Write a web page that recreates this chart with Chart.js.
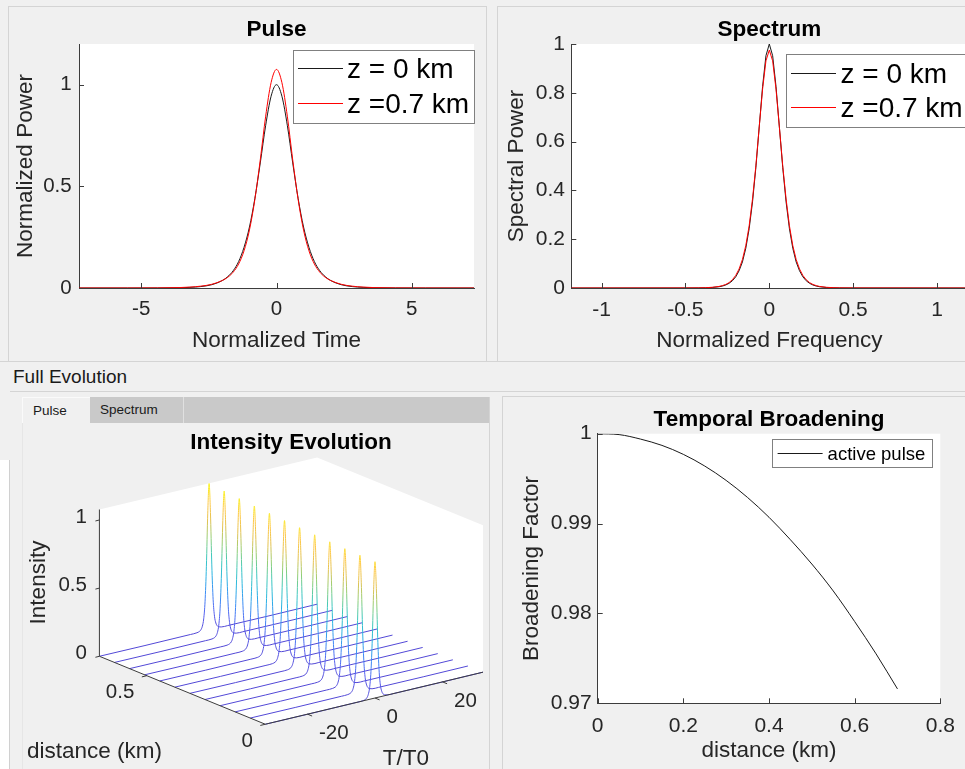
<!DOCTYPE html>
<html>
<head>
<meta charset="utf-8">
<title>Pulse propagation</title>
<script src="https://cdn.jsdelivr.net/npm/chart.js@4.4.1/dist/chart.umd.min.js"></script>
<style>
  html, body { margin: 0; padding: 0; background: #f0f0f0; overflow: hidden; }
  #fig { position: relative; width: 965px; height: 769px; overflow: hidden;
         font-family: "Liberation Sans", Arial, Helvetica, sans-serif; color: #000; }
  .ln { position: absolute; background: #d4d4d4; }
  canvas { position: absolute; }
  .tab { position: absolute; top: 397px; height: 26px; line-height: 26px; font-size: 13.5px; color: #1a1a1a; box-sizing: border-box; }
</style>
</head>
<body>
<div id="fig">
  <!-- panel frames -->
  <div class="ln" style="left:8px;top:6px;width:1px;height:355px"></div>
  <div class="ln" style="left:8px;top:6px;width:478px;height:1px"></div>
  <div class="ln" style="left:486px;top:6px;width:1px;height:355px"></div>
  <div class="ln" style="left:497px;top:6px;width:1px;height:355px"></div>
  <div class="ln" style="left:497px;top:6px;width:468px;height:1px"></div>
  <div class="ln" style="left:0;top:361px;width:965px;height:1px"></div>
  <div style="position:absolute;left:13px;top:365px;font-size:19px;line-height:23px;color:#1a1a1a">Full Evolution</div>
  <div class="ln" style="left:10px;top:391px;width:955px;height:1px"></div>
  <div style="position:absolute;left:0;top:460px;width:9px;height:309px;background:#fff;border-right:1px solid #d0d0d0"></div>

  <!-- tab group -->
  <div style="position:absolute;left:22px;top:397px;width:467px;height:26px;background:#c9c9c9"></div>
  <div class="tab" style="left:22px;width:68px;background:#f0f0f0;border-left:1px solid #fafafa;border-top:1px solid #fafafa;padding-left:10px">Pulse</div>
  <div class="tab" style="left:90px;width:94px;background:#c9c9c9;border-right:1px solid #e0e0e0;padding-left:10px">Spectrum</div>
  <div class="ln" style="left:22px;top:423px;width:1px;height:346px;background:#e6e6e6"></div>
  <div class="ln" style="left:489px;top:397px;width:1px;height:372px"></div>

  <div class="ln" style="left:502px;top:396px;width:1px;height:373px"></div>
  <div class="ln" style="left:502px;top:396px;width:463px;height:1px"></div>

  <canvas id="pulse" width="478" height="355" style="left:8px;top:6px"></canvas>
  <canvas id="spectrum" width="490" height="355" style="left:497px;top:6px"></canvas>
  <canvas id="evolution" width="467" height="346" style="left:22px;top:423px"></canvas>
  <canvas id="broadening" width="463" height="372" style="left:502px;top:397px"></canvas>
</div>

<script>
// ---- pulse in time (normalized time, normalized power)
const pulseTime = [-7.3, -5.5, -4.4, -3.6, -3.2, -2.8, -2.4, -2.0, -1.8, -1.6, -1.4, -1.2, -1.0, -0.8, -0.6, -0.4, -0.2, 0,
                   0.2, 0.4, 0.6, 0.8, 1.0, 1.2, 1.4, 1.6, 1.8, 2.0, 2.4, 2.8, 3.2, 3.6, 4.4, 5.5, 7.3];
const pulseStart = [0, 0, 0.0002, 0.0012, 0.003, 0.007, 0.016, 0.037, 0.056, 0.085, 0.130, 0.200, 0.300, 0.440, 0.615, 0.800, 0.943, 1.000,
                    0.943, 0.800, 0.615, 0.440, 0.300, 0.200, 0.130, 0.085, 0.056, 0.037, 0.016, 0.007, 0.003, 0.0012, 0.0002, 0, 0];
const pulseEnd = [0, 0.0001, 0.0005, 0.002, 0.0045, 0.009, 0.018, 0.037, 0.053, 0.078, 0.118, 0.183, 0.285, 0.435, 0.630, 0.845, 1.010, 1.075,
                  1.010, 0.845, 0.630, 0.435, 0.285, 0.183, 0.118, 0.078, 0.053, 0.037, 0.018, 0.009, 0.0045, 0.002, 0.0005, 0.0001, 0];
const pulseTicksX = [-5, 0, 5];
const pulseTicksY = [0, 0.5, 1];

// ---- spectrum (normalized frequency, spectral power)
const specFreq = [-1.18, -0.5, -0.42, -0.38, -0.34, -0.30, -0.28, -0.26, -0.24, -0.22, -0.20, -0.18, -0.16, -0.14, -0.12, -0.10,
                  -0.08, -0.06, -0.04, -0.02, 0, 0.02, 0.04, 0.06, 0.08, 0.10, 0.12, 0.14, 0.16, 0.18, 0.20, 0.22, 0.24,
                  0.26, 0.28, 0.30, 0.34, 0.38, 0.42, 0.5, 1.18];
const specStart = [0, 0.0001, 0.0004, 0.0009, 0.0021, 0.0051, 0.0079, 0.0123, 0.0191, 0.0297, 0.0459, 0.0707, 0.107, 0.163, 0.243, 0.353,
                   0.494, 0.660, 0.826, 0.952, 1.000, 0.952, 0.826, 0.660, 0.494, 0.353, 0.243, 0.163, 0.107, 0.0707, 0.0459, 0.0297, 0.0191,
                   0.0123, 0.0079, 0.0051, 0.0021, 0.0009, 0.0004, 0.0001, 0];
const specEnd = [0, 0.0002, 0.0006, 0.0013, 0.0029, 0.0064, 0.0097, 0.0145, 0.022, 0.034, 0.0515, 0.078, 0.117, 0.174, 0.255, 0.365,
                 0.501, 0.660, 0.815, 0.931, 0.975, 0.931, 0.815, 0.660, 0.501, 0.365, 0.255, 0.174, 0.117, 0.078, 0.0515, 0.034, 0.022,
                 0.0145, 0.0097, 0.0064, 0.0029, 0.0013, 0.0006, 0.0002, 0];
const specTicksX = [-1, -0.5, 0, 0.5, 1];
const specTicksY = [0, 0.2, 0.4, 0.6, 0.8, 1];

// ---- broadening factor along the fibre
const broadDistance = [0, 0.05, 0.10, 0.15, 0.20, 0.25, 0.30, 0.35, 0.40, 0.45, 0.50, 0.55, 0.60, 0.65, 0.70];
const broadFactor = [1.0000, 0.9999, 0.9994, 0.9987, 0.9977, 0.9964, 0.9948, 0.9929, 0.9907, 0.9882, 0.9855, 0.9825, 0.9791, 0.9755, 0.9716];
const broadTicksX = [0, 0.2, 0.4, 0.6, 0.8];
const broadTicksY = [0.97, 0.98, 0.99, 1];

// ---- waterfall of the pulse along distance
const evoDistance = [0, 0.0636, 0.1273, 0.1909, 0.2545, 0.3182, 0.3818, 0.4455, 0.5091, 0.5727, 0.6364, 0.7];
const evoPeak = [1.000, 1.002, 1.005, 1.010, 1.016, 1.023, 1.030, 1.038, 1.046, 1.055, 1.065, 1.075];
const evoTime = [-32.5, -5.5, -3.6, -2.8, -2.4, -2.0, -1.6, -1.2, -0.8, -0.4, 0, 0.4, 0.8, 1.2, 1.6, 2.0, 2.4, 2.8, 3.6, 5.5, 32];
const evoShape = [0, 0, 0.0012, 0.007, 0.016, 0.037, 0.085, 0.200, 0.440, 0.800, 1, 0.800, 0.440, 0.200, 0.085, 0.037, 0.016, 0.007, 0.0012, 0, 0];
const evoTicksT = [-20, 0, 20];
const evoTicksZ = [0, 0.5];
const evoTicksI = [0, 0.5, 1];
const evoLimT = [-32.5, 32];
const evoLimZ = [0, 0.7];
const evoLimI = [0, 1.077];

const family = '"Liberation Sans", Arial, Helvetica, sans-serif';
Chart.defaults.font.family = family;
Chart.defaults.color = '#262626';
Chart.defaults.animation = false;
Chart.defaults.events = [];
Chart.defaults.plugins.legend.display = false;
Chart.defaults.plugins.tooltip.enabled = false;

const AXIS = '#3c3c3c';
const BLACK_LINE = '#1a1a1a';
const RED_LINE = '#ff0000';

// white plot box behind the data
const plotBg = {
  id: 'plotBg',
  beforeDraw(chart) {
    const { ctx, chartArea: a } = chart;
    ctx.save();
    ctx.fillStyle = '#ffffff';
    ctx.fillRect(a.left, a.top, a.right - a.left, a.bottom - a.top);
    ctx.restore();
  }
};

// short tick marks pointing into the plot
const inwardTicks = {
  id: 'inwardTicks',
  afterDatasetsDraw(chart, args, opts) {
    const { ctx, chartArea: a, scales } = chart;
    const len = opts.length || 5;
    ctx.save();
    ctx.strokeStyle = AXIS;
    ctx.lineWidth = 1;
    ctx.beginPath();
    scales.x.ticks.forEach((t) => {
      const p = Math.round(scales.x.getPixelForValue(t.value)) + 0.5;
      ctx.moveTo(p, a.bottom);
      ctx.lineTo(p, a.bottom - len);
    });
    scales.y.ticks.forEach((t) => {
      const p = Math.round(scales.y.getPixelForValue(t.value)) + 0.5;
      ctx.moveTo(a.left, p);
      ctx.lineTo(a.left + len, p);
    });
    ctx.stroke();
    ctx.restore();
  }
};

// boxed legend in the top right corner of the plot, sample colour taken from each line
const boxLegend = {
  id: 'boxLegend',
  afterDraw(chart, args, o) {
    const { ctx, chartArea: a } = chart;
    const left = Math.round(a.right - o.right - o.width);
    const top = Math.round(a.top + o.top);
    ctx.save();
    ctx.fillStyle = '#ffffff';
    ctx.fillRect(left, top, o.width, o.height);
    ctx.strokeStyle = '#808080';
    ctx.lineWidth = 1;
    ctx.strokeRect(left + 0.5, top + 0.5, Math.round(o.width), Math.round(o.height));
    ctx.font = o.size + 'px ' + family;
    ctx.textBaseline = 'middle';
    chart.data.datasets.forEach((ds, i) => {
      const y = Math.round(top + o.first + i * o.row);
      const line = chart.getDatasetMeta(i).dataset;
      ctx.fillStyle = line && line.options ? line.options.borderColor : ds.borderColor;
      ctx.fillRect(left + o.sample, y, 45, 1);
      ctx.fillStyle = '#000';
      ctx.fillText(ds.label, left + o.text, y + 2);
    });
    ctx.restore();
  }
};

function axis(min, max, ticks, title, o) {
  return {
    type: 'linear',
    min: min,
    max: max,
    grid: { display: false, drawTicks: false },
    border: { display: true, color: AXIS, width: 1 },
    afterBuildTicks: (s) => { s.ticks = ticks.map((v) => ({ value: v })); },
    afterFit: (s) => { if (s.isHorizontal()) s.height = o.size; else s.width = o.size; },
    ticks: { padding: o.tickPad, font: { size: o.tickFont }, color: '#262626', callback: (v) => String(v) },
    title: { display: true, text: title, font: { size: 22.5 }, color: '#262626', padding: o.titlePad }
  };
}

function series(xs, ys) {
  return xs.map((x, i) => ({ x: x, y: ys[i] }));
}

function lineSet(label, xs, ys, color, order, smooth) {
  return {
    label: label,
    data: series(xs, ys),
    showLine: true,
    borderColor: color,
    borderWidth: 1,
    pointRadius: 0,
    order: order,
    tension: 0,
    cubicInterpolationMode: smooth ? 'monotone' : 'default'
  };
}

function titleOpts(text, top, bottom) {
  return {
    display: true, text: text, fullSize: false, color: '#000',
    font: { size: 22.5, weight: 'bold' }, padding: { top: top, bottom: bottom }
  };
}

// ---- Pulse
new Chart(document.getElementById('pulse'), {
  type: 'scatter',
  data: {
    datasets: [
      lineSet('z = 0 km', pulseTime, pulseStart, BLACK_LINE, 1, true),
      lineSet('z =0.7 km', pulseTime, pulseEnd, RED_LINE, 0, true)
    ]
  },
  options: {
    responsive: false,
    layout: { padding: { left: 0, right: 12, top: 0, bottom: 0 } },
    scales: {
      x: axis(-7.3, 7.3, pulseTicksX, 'Normalized Time', { size: 73, tickPad: 9, tickFont: 20.5, titlePad: { top: 0, bottom: 7.2 } }),
      y: axis(0, 1.2, pulseTicksY, 'Normalized Power', { size: 71, tickPad: 7.3, tickFont: 20.5, titlePad: { top: 4.6, bottom: 0 } })
    },
    plugins: {
      title: titleOpts('Pulse', 10.2, 0.8),
      inwardTicks: { length: 5 },
      boxLegend: { right: 0.3, top: 6, width: 181, height: 72.7, first: 18.3, row: 35, size: 28, sample: 5, text: 54 }
    }
  },
  plugins: [plotBg, inwardTicks, boxLegend]
});

// ---- Spectrum
new Chart(document.getElementById('spectrum'), {
  type: 'scatter',
  data: {
    datasets: [
      lineSet('z = 0 km', specFreq, specStart, BLACK_LINE, 1, false),
      lineSet('z =0.7 km', specFreq, specEnd, RED_LINE, 0, false)
    ]
  },
  options: {
    responsive: false,
    layout: { padding: { left: 0, right: 19.7, top: 0, bottom: 0 } },
    scales: {
      x: axis(-1.18, 1.18, specTicksX, 'Normalized Frequency', { size: 73, tickPad: 9.4, tickFont: 21, titlePad: { top: 0, bottom: 7.2 } }),
      y: axis(0, 1, specTicksY, 'Spectral Power', { size: 74.3, tickPad: 6.3, tickFont: 21, titlePad: { top: 6.4, bottom: 0 } })
    },
    plugins: {
      title: titleOpts('Spectrum', 10.2, 0.8),
      inwardTicks: { length: 5 },
      boxLegend: { right: 0, top: 10, width: 181, height: 72.7, first: 18.7, row: 34.6, size: 28, sample: 5, text: 54.5 }
    }
  },
  plugins: [plotBg, inwardTicks, boxLegend]
});

// ---- Temporal broadening
new Chart(document.getElementById('broadening'), {
  type: 'scatter',
  data: {
    datasets: [lineSet('active pulse', broadDistance, broadFactor, BLACK_LINE, 0, true)]
  },
  options: {
    responsive: false,
    layout: { padding: { left: 0, right: 14, top: 0, bottom: 0 } },
    scales: {
      x: axis(0, 0.8, broadTicksX, 'distance (km)', { size: 65.7, tickPad: 10.1, tickFont: 21, titlePad: { top: 0, bottom: 4.5 } }),
      y: axis(0.97, 1, broadTicksY, 'Broadening Factor', { size: 95.7, tickPad: 6, tickFont: 21, titlePad: { top: 16.4, bottom: 0 } })
    },
    plugins: {
      title: titleOpts('Temporal Broadening', 9, 0.7),
      inwardTicks: { length: 5 },
      boxLegend: { right: 8.7, top: 5.3, width: 159.6, height: 27.7, first: 13.7, row: 0, size: 18.5, sample: 5.6, text: 55.6 }
    }
  },
  plugins: [plotBg, inwardTicks, boxLegend]
});

// ---- 3D waterfall: orthographic view of (T/T0, distance, intensity) onto the panel
const view = { x0: 375, y0: 698, tx: 3.375, ty: -0.8075, zx: -237, zy: -97.1, iy: -136.3 };
function project(t, z, i) {
  return { x: view.x0 + view.tx * t + view.zx * z, y: view.y0 + view.ty * t + view.zy * z + view.iy * i };
}

// parula-like colour map, coloured by intensity
const colorTop = 1.075;
const cmap = [
  [0.00, 'rgb(82,72,214)'], [0.12, 'rgb(84,96,240)'], [0.25, 'rgb(60,138,245)'],
  [0.38, 'rgb(40,180,226)'], [0.50, 'rgb(60,200,190)'], [0.62, 'rgb(140,206,120)'],
  [0.75, 'rgb(228,194,80)'], [0.87, 'rgb(254,200,70)'], [1.00, 'rgb(249,246,24)']
];

function traceGradient(chart, z) {
  const sx = chart.scales.x, sy = chart.scales.y;
  if (!chart.chartArea || !sx || !sy) return cmap[0][1];
  const px = (p) => ({ x: sx.getPixelForValue(p.x), y: sy.getPixelForValue(p.y) });
  const a = px(project(0, z, 0));
  const b = px(project(0, z, colorTop));
  const c = px(project(1, z, 0));
  if (![a.x, a.y, b.x, b.y, c.x, c.y].every(Number.isFinite)) return cmap[0][1];
  // colour bands run parallel to the time axis
  let nx = -(c.y - a.y), ny = c.x - a.x;
  const n = Math.hypot(nx, ny);
  nx /= n; ny /= n;
  let len = nx * (b.x - a.x) + ny * (b.y - a.y);
  if (len < 0) { nx = -nx; ny = -ny; len = -len; }
  const g = chart.ctx.createLinearGradient(a.x, a.y, a.x + nx * len, a.y + ny * len);
  cmap.forEach(([s, col]) => g.addColorStop(s, col));
  return g;
}

const evoSets = evoDistance.map((z, k) => ({
  label: 'z ' + z,
  data: evoTime.map((t, j) => project(t, z, evoPeak[k] * evoShape[j])),
  showLine: true,
  pointRadius: 0,
  borderWidth: 1,
  cubicInterpolationMode: 'monotone',
  borderColor: (ctx) => traceGradient(ctx.chart, z)
}));

const evoFrame = {
  id: 'evoFrame',
  beforeDatasetsDraw(chart) {
    const { ctx } = chart;
    const sx = chart.scales.x, sy = chart.scales.y;
    const px = (p) => [sx.getPixelForValue(p.x), sy.getPixelForValue(p.y)];
    const [t0, t1] = evoLimT, [z0, z1] = evoLimZ, [i0, i1] = evoLimI;
    const poly = [project(t0, z1, i0), project(t0, z0, i0), project(t1, z0, i0),
                  project(t1, z0, i1), project(t1, z1, i1), project(t0, z1, i1)].map(px);
    ctx.save();
    ctx.fillStyle = '#ffffff';
    ctx.beginPath();
    poly.forEach(([x, y], i) => (i ? ctx.lineTo(x, y) : ctx.moveTo(x, y)));
    ctx.closePath();
    ctx.fill();
    ctx.restore();
  },
  afterDatasetsDraw(chart) {
    const { ctx } = chart;
    const sx = chart.scales.x, sy = chart.scales.y;
    const px = (p) => [sx.getPixelForValue(p.x), sy.getPixelForValue(p.y)];
    const [t0, t1] = evoLimT, [z0, z1] = evoLimZ, [i0, i1] = evoLimI;
    const seg = (p, q) => { ctx.moveTo(p[0], p[1]); ctx.lineTo(q[0], q[1]); };

    ctx.save();
    ctx.strokeStyle = AXIS;
    ctx.lineWidth = 1;
    ctx.beginPath();
    seg(px(project(t0, z1, i0)), px(project(t0, z1, i1)));   // intensity axis
    seg(px(project(t0, z0, i0)), px(project(t0, z1, i0)));   // distance axis
    seg(px(project(t0, z0, i0)), px(project(t1, z0, i0)));   // time axis
    evoTicksI.forEach((v) => { const p = px(project(t0, z1, v)); seg(p, [p[0] - 4, p[1] + 1]); });
    evoTicksZ.forEach((v) => { const p = px(project(t0, v, i0)); seg(p, [p[0] - 5, p[1] + 1.2]); });
    evoTicksT.forEach((v) => { const p = px(project(v, z0, i0)); seg(p, [p[0] + 4.6, p[1] + 1.9]); });
    ctx.stroke();

    ctx.fillStyle = '#262626';
    ctx.textBaseline = 'middle';
    ctx.font = '20.5px ' + family;
    ctx.textAlign = 'right';
    evoTicksI.forEach((v) => { const p = px(project(t0, z1, v)); ctx.fillText(String(v), p[0] - 12.5, p[1] - 3); });
    evoTicksZ.forEach((v) => { const p = px(project(t0, v, i0)); ctx.fillText(String(v), p[0] - 12.5, p[1] + 17); });
    ctx.textAlign = 'left';
    evoTicksT.forEach((v) => { const p = px(project(v, z0, i0)); ctx.fillText(String(v), p[0] + 11.5, p[1] + 19.3); });

    ctx.font = '22.5px ' + family;
    ctx.textAlign = 'center';
    ctx.fillText('distance (km)', sx.getPixelForValue(94.5), sy.getPixelForValue(752));
    ctx.fillText('T/T0', sx.getPixelForValue(405.8), sy.getPixelForValue(758.5));
    ctx.save();
    ctx.translate(sx.getPixelForValue(38.6), sy.getPixelForValue(582.5));
    ctx.rotate(-Math.PI / 2);
    ctx.fillText('Intensity', 0, 0);
    ctx.restore();

    ctx.fillStyle = '#000';
    ctx.font = 'bold 22.5px ' + family;
    ctx.fillText('Intensity Evolution', sx.getPixelForValue(291), sy.getPixelForValue(443));
    ctx.restore();
  }
};

new Chart(document.getElementById('evolution'), {
  type: 'scatter',
  data: { datasets: evoSets },
  options: {
    responsive: false,
    layout: { padding: 0 },
    scales: {
      x: { type: 'linear', display: false, min: 22, max: 489 },
      y: { type: 'linear', display: false, min: 423, max: 769, reverse: true }
    }
  },
  plugins: [evoFrame]
});
</script>
</body>
</html>
